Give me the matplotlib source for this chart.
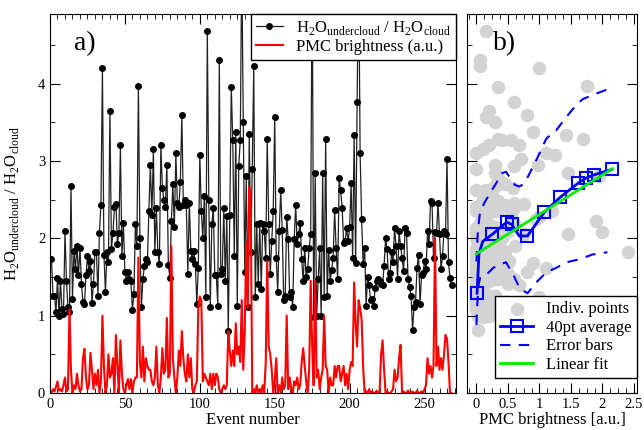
import numpy as np
import matplotlib.pyplot as plt
from matplotlib.ticker import MultipleLocator

plt.rcParams['font.family'] = ['Liberation Serif', 'DejaVu Serif']
plt.rcParams['mathtext.fontset'] = 'custom'
plt.rcParams['mathtext.rm'] = 'Liberation Serif'

# H2O undercloud / cloud ratio for each event
ratio = [
    1.73, 1.26, 1.25, 1.05, 1.49, 1.00, 1.45, 1.08, 1.02, 2.09,
    1.45, 1.11, 1.05, 2.68, 1.22, 1.84, 1.60, 1.90, 1.52, 1.88,
    1.41, 1.18, 1.15, 1.52, 1.77, 1.58, 1.71, 1.17, 1.41, 1.82,
    1.82, 1.26, 2.07, 2.43, 4.20, 1.79, 1.30, 1.82, 1.69, 3.65,
    1.86, 2.07, 2.40, 2.45, 1.92, 2.07, 3.20, 1.77, 2.20, 1.56,
    1.45, 1.56, 1.47, 1.45, 1.07, 1.28, 2.18, 1.90, 3.97, 2.00,
    1.11, 1.47, 1.64, 1.73, 1.69, 2.35, 2.95, 2.30, 3.15, 1.82,
    2.39, 1.82, 1.67, 3.20, 2.65, 2.50, 2.41, 2.95, 1.66, 1.49,
    2.22, 2.70, 2.14, 3.10, 2.46, 2.40, 2.73, 3.60, 2.43, 2.50,
    2.43, 1.54, 2.46, 1.84, 1.73, 1.84, 1.67, 1.15, 1.62, 3.08,
    2.35, 2.00, 2.55, 1.24, 4.68, 2.50, 1.11, 2.18, 2.39, 1.52,
    1.52, 1.13, 4.30, 1.54, 1.60, 2.39, 1.45, 2.29, 0.80, 2.30,
    3.95, 3.27, 1.77, 3.37, 1.13, 2.94, 3.27, 5.60, 3.50, 1.56,
    2.80, 1.11, 3.35, 1.82, 2.90, 4.23, 1.24, 2.18, 1.41, 2.20,
    1.35, 2.18, 2.09, 1.75, 3.29, 2.18, 1.54, 1.97, 2.35, 3.57,
    1.75, 1.30, 2.09, 2.62, 2.11, 1.20, 1.26, 2.28, 1.99, 1.24,
    1.30, 1.11, 1.99, 2.43, 1.92, 2.06, 2.20, 1.73, 1.45, 1.88,
    1.50, 1.60, 1.88, 2.05, 5.60, 0.98, 2.84, 1.00, 1.47, 1.87,
    1.00, 2.84, 1.24, 3.29, 1.26, 1.85, 1.45, 1.59, 1.75, 2.36,
    1.87, 1.47, 2.78, 2.62, 2.39, 1.94, 1.97, 2.13, 1.96, 2.14,
    2.71, 1.75, 3.33, 1.68, 3.76, 5.60, 3.10, 2.25, 1.67, 1.88,
    1.13, 1.50, 1.39, 1.20, 1.22, 1.13, 1.36, 1.45, 1.47, 1.45,
    1.41, 1.40, 1.64, 2.00, 1.86, 1.47, 1.55, 1.82, 1.70, 2.13,
    1.90, 1.47, 2.09, 1.90, 1.75, 1.58, 2.13, 2.07, 1.47, 1.37,
    1.26, 0.82, 1.11, 1.18, 1.62, 1.79, 1.15, 1.52, 1.55, 1.71,
    1.60, 2.09, 1.92, 2.48, 2.46, 1.75, 2.08, 2.07, 2.46, 2.05,
    1.60, 1.77, 2.10, 2.05, 3.03, 1.69, 1.49, 1.39,
]

# PMC brightness (a.u.) for each event
pmc = [
    0.00, 0.05, 0.02, 0.08, 0.15, 0.03, 0.05, 0.02, 0.10, 0.20,
    0.02, 0.05, 1.08, 0.30, 0.00, 0.10, 0.05, 0.25, 0.10, 0.02,
    0.05, 0.45, 0.57, 0.20, 0.05, 0.10, 0.52, 0.30, 0.05, 0.25,
    0.10, 0.30, 0.00, 0.15, 1.00, 0.35, 0.00, 0.10, 0.50, 0.20,
    0.25, 0.45, 0.00, 0.75, 0.35, 0.00, 0.68, 0.25, 0.05, 0.00,
    0.10, 0.18, 0.05, 0.18, 0.00, 0.15, 0.20, 0.20, 1.75, 0.40,
    0.20, 0.60, 0.15, 0.45, 0.35, 0.30, 0.30, 0.15, 0.10, 0.20,
    0.60, 0.10, 0.00, 0.20, 0.58, 0.25, 0.30, 0.97, 0.20, 0.25,
    1.90, 0.45, 0.20, 0.00, 0.20, 0.55, 0.35, 0.80, 0.45, 0.25,
    0.15, 0.50, 0.20, 0.45, 0.05, 0.00, 0.10, 0.15, 1.10, 1.25,
    1.20, 0.15, 0.25, 0.20, 0.15, 0.10, 0.25, 0.05, 0.25, 0.10,
    0.25, 0.20, 0.05, 0.00, 0.05, 0.10, 0.05, 0.10, 0.80, 0.55,
    0.35, 0.55, 0.35, 0.90, 0.50, 0.60, 0.40, 1.20, 0.30, 0.80,
    1.95, 1.10, 2.67, 2.40, 0.00, 0.05, 0.00, 0.10, 0.00, 0.05,
    0.00, 0.10, 0.00, 0.40, 1.70, 0.60, 0.50, 0.30, 0.00, 0.15,
    0.45, 0.00, 0.10, 0.00, 0.20, 0.05, 0.10, 1.00, 0.05, 0.20,
    0.05, 0.00, 0.15, 0.10, 0.20, 0.05, 0.10, 0.40, 0.58, 0.35,
    0.15, 0.00, 0.30, 1.45, 0.60, 0.10, 1.45, 0.20, 0.30, 0.05,
    0.20, 0.30, 1.00, 0.35, 0.30, 0.00, 0.20, 0.10, 0.10, 0.35,
    0.20, 0.35, 0.35, 0.15, 0.25, 0.35, 0.10, 0.25, 0.05, 0.30,
    0.40, 0.35, 1.43, 0.90, 0.60, 1.20, 1.10, 0.95, 0.35, 0.00,
    0.02, 0.00, 0.05, 0.00, 0.02, 0.00, 0.00, 0.03, 0.00, 0.02,
    0.50, 0.68, 0.30, 0.00, 0.02, 0.00, 0.00, 0.02, 0.05, 0.30,
    0.15, 0.20, 0.45, 0.62, 0.00, 0.02, 0.00, 0.00, 0.03, 0.00,
    0.00, 0.02, 0.00, 0.00, 0.03, 0.00, 0.00, 0.02, 0.00, 0.05,
    0.10, 0.45, 0.25, 0.35, 0.20, 0.35, 2.00, 0.35, 0.60, 0.30,
    0.45, 0.30, 0.50, 0.75, 0.70, 0.40, 0.00, 0.00,
]

# 40 point running average (panel b)
avg_x = [0.01, 0.04, 0.10, 0.25, 0.48, 0.56, 0.68, 0.81, 1.08, 1.33, 1.61, 1.74, 1.87, 2.15]
avg_y = [1.29, 1.80, 1.96, 2.05, 2.21, 2.18, 2.03, 2.03, 2.34, 2.53, 2.71, 2.78, 2.82, 2.89]

# error bars (upper / lower envelopes)
err_up_x = [0.00, 0.02, 0.05, 0.12, 0.22, 0.32, 0.40, 0.47, 0.55, 0.61, 0.68, 0.75, 0.82,
            0.95, 1.11, 1.27, 1.43, 1.58, 1.69, 1.90, 2.16]
err_up_y = [1.70, 2.05, 2.30, 2.45, 2.59, 2.72, 2.84, 2.86, 2.76, 2.69, 2.67, 2.70, 2.80,
            3.01, 3.29, 3.40, 3.57, 3.72, 3.80, 3.87, 3.95]
err_lo_x = [0.00, 0.01, 0.03, 0.06, 0.17, 0.27, 0.40, 0.47, 0.59, 0.69, 0.81, 0.95, 1.11,
            1.27, 1.43, 1.64, 1.84, 2.08]
err_lo_y = [0.88, 1.10, 1.38, 1.50, 1.54, 1.62, 1.67, 1.69, 1.52, 1.35, 1.29, 1.43, 1.56,
            1.62, 1.69, 1.73, 1.79, 1.82]

# linear fit end points
fit_x = [0.0, 2.16]
fit_y = [1.80, 2.90]

events = np.arange(1, len(ratio) + 1)

fig = plt.figure(figsize=(6.44, 4.30), dpi=100)
ax1 = fig.add_axes([50 / 644, 37 / 430, 406 / 644, 379 / 430])
ax2 = fig.add_axes([467 / 644, 37 / 430, 170 / 644, 379 / 430])

ylab = r'H$_{\mathregular{2}}$O$_{\mathregular{undercloud}}$ / H$_{\mathregular{2}}$O$_{\mathregular{cloud}}$'

# panel a
ax1.plot(events, ratio, color='#222222', lw=0.9, marker='o', ms=4, mfc='black', mec='black',
         label=ylab)
ax1.plot(events, pmc, color='red', lw=1.5, label='PMC brightness (a.u.)')
ax1.set_xlim(0, 271)
ax1.set_ylim(0, 4.9)
ax1.xaxis.set_major_locator(MultipleLocator(50))
ax1.xaxis.set_minor_locator(MultipleLocator(5))
ax1.yaxis.set_major_locator(MultipleLocator(1))
ax1.yaxis.set_minor_locator(MultipleLocator(0.5))
ax1.set_xlabel('Event number', fontsize=12, labelpad=1)
ax1.set_ylabel(ylab, fontsize=12)
ax1.yaxis.set_label_coords(-0.072, 0.5)
ax1.text(0.086, 0.923, 'a)', transform=ax1.transAxes, fontsize=20, ha='center', va='center')
ax1.legend(loc='upper right', bbox_to_anchor=(1, 1), borderaxespad=0, fontsize=12,
           fancybox=False, edgecolor='black', framealpha=1, handlelength=1.6,
           labelspacing=0.1, borderpad=0.3)

# panel b
ax2.scatter(pmc, ratio, s=95, color='#d3d3d3', lw=0, label='Indiv. points', zorder=1)
ax2.plot(avg_x, avg_y, color='blue', lw=2, marker='s', ms=8.5, mfc='none', mew=1.5,
         markevery=[0, 3, 4, 5, 7, 8, 9, 10, 11, 12, 13], label='40pt average', zorder=3)
ax2.plot(err_up_x, err_up_y, color='blue', lw=1.5, ls=(0, (5, 4)), label='Error bars', zorder=2)
ax2.plot(err_lo_x, err_lo_y, color='blue', lw=1.5, ls=(0, (5, 4)), zorder=2)
ax2.plot(fit_x, fit_y, color='#00ee00', lw=2, label='Linear fit', zorder=4)
ax2.set_xlim(-0.15, 2.55)
ax2.set_ylim(0, 4.9)
ax2.xaxis.set_major_locator(MultipleLocator(0.5))
ax2.xaxis.set_minor_locator(MultipleLocator(0.125))
ax2.yaxis.set_major_locator(MultipleLocator(1))
ax2.yaxis.set_minor_locator(MultipleLocator(0.5))
ax2.set_xticks([0, 0.5, 1, 1.5, 2, 2.5])
ax2.set_xticklabels(['0', '0.5', '1', '1.5', '2', '2.5'])
ax2.set_yticklabels([])
ax2.set_xlabel('PMC brightness [a.u.]', fontsize=12, labelpad=1)
ax2.text(0.218, 0.923, 'b)', transform=ax2.transAxes, fontsize=20, ha='center', va='center')
ax2.legend(loc='lower right', bbox_to_anchor=(1, 0.04), borderaxespad=0, fontsize=12,
           fancybox=False, edgecolor='black', framealpha=1, handlelength=2.0,
           labelspacing=0.15, borderpad=0.3)

for ax in (ax1, ax2):
    ax.tick_params(which='both', direction='in', top=True, right=True, labelsize=10.5)
    ax.tick_params(which='major', length=7)
    ax.tick_params(which='minor', length=3.5)

fig.savefig('out.png', dpi=100)
